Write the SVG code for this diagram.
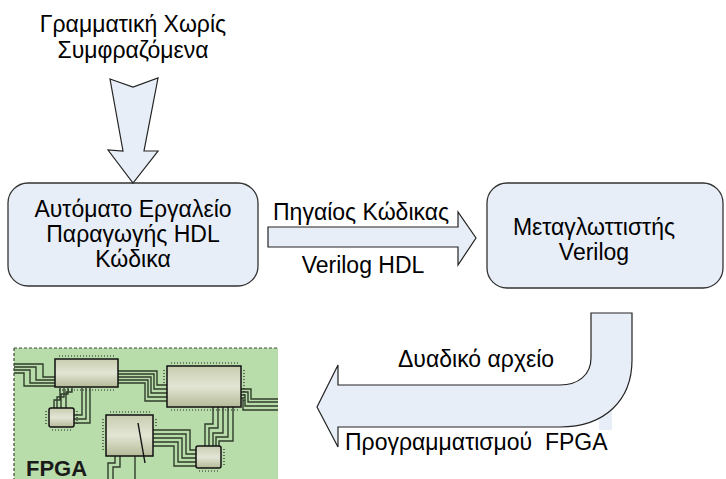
<svg xmlns="http://www.w3.org/2000/svg" width="726" height="479" viewBox="0 0 726 479">
  <defs>
    <style>
      .lbl { font-family: "Liberation Sans", Arial, sans-serif; font-size: 23px; fill: #000; }
      .box { fill: #e8eef7; stroke: #333; stroke-width: 1.3; }
      .arr { fill: #e8eef7; stroke: #222; stroke-width: 1.2; stroke-linejoin: miter; }
      .chip { fill: url(#chipGrad); stroke: #111; stroke-width: 1.5; }
      .pins { stroke: #222; stroke-width: 1.2; stroke-dasharray: 1 2; fill: none; }
      .trace { fill: none; stroke: #2f3d2b; stroke-width: 1.4; }
    </style>
    <linearGradient id="chipGrad" x1="0" y1="0" x2="0" y2="1">
      <stop offset="0" stop-color="#c9cdb0"/>
      <stop offset="0.5" stop-color="#e2e5d4"/>
      <stop offset="1" stop-color="#b5bb98"/>
    </linearGradient>
  </defs>

  <!-- heading -->
  <g id="grammar">
    <text class="lbl" x="133" y="32" text-anchor="middle">Γραμματική Χωρίς</text>
    <text class="lbl" x="133" y="58" text-anchor="middle">Συμφραζόμενα</text>
  </g>

  <!-- nodes -->
  <g id="generator">
    <rect class="box" x="8" y="183" width="250" height="103" rx="20" ry="20"/>
    <text class="lbl" x="133" y="217" text-anchor="middle">Αυτόματο Εργαλείο</text>
    <text class="lbl" x="133" y="242" text-anchor="middle">Παραγωγής HDL</text>
    <text class="lbl" x="133" y="267" text-anchor="middle">Κώδικα</text>
  </g>

  <g id="compiler">
    <rect class="box" x="487" y="183" width="236" height="105" rx="20" ry="20"/>
    <text class="lbl" x="594" y="235" text-anchor="middle">Μεταγλωττιστής</text>
    <text class="lbl" x="594" y="260" text-anchor="middle">Verilog</text>
  </g>

  <!-- FPGA board -->
  <g id="fpga">
    <rect x="14" y="348" width="264" height="135" fill="#b9dcab"/>
    <path d="M14,348 H278 M14,348 V479" stroke="#3c4a38" stroke-width="1.2" stroke-dasharray="3 2" fill="none"/>
    <!-- traces -->
    <path class="trace" d="M14,364 H43 V377 H55 M14,367 H36 V380 H55 M14,370 H30 V383 H55 M14,373 H24 V386 H55"/>
    <path class="trace" d="M118,371 H157 V385 H167 M118,374 H154 V389 H167 M118,377 H151 V393 H167 M118,380 H148 V397 H167 M118,383 H145 V401 H167"/>
    <path class="trace" d="M60,388 V400 H54 V408 M64,388 V397 H57 V408 M68,388 V394 H61 V408 M72,388 V392 H66 V408 M82,388 V415 H74 M86,388 V419 H74 M90,388 V423 H74"/>
    <path class="trace" d="M241,389 H251 V399 H278 M241,392 H248 V402 H278 M241,395 H245 V406 H278 M241,398 H243 V410 H278"/>
    <path class="trace" d="M213,407 V424 H205 V446 M218,407 V428 H209 V446 M223,407 V433 H213 V446 M228,407 V437 H216 V446 M233,407 V441 H219 V446"/>
    <path class="trace" d="M153,430 H190 V450 H196 M153,434 H186 V454 H196 M153,438 H182 V458 H196 M153,442 H178 V462 H196 M153,446 H174 V466 H196"/>
    <path class="trace" d="M115,456 V463 H108 V479 M120,456 V467 H113 V479 M135,456 V479"/>
    <!-- chips -->
    <g id="chipA">
      <rect class="chip" x="55" y="359" width="63" height="28"/>
      <path class="pins" d="M59,356 H116 M59,390 H116"/>
    </g>
    <g id="chipB">
      <rect class="chip" x="167" y="366" width="74" height="41"/>
      <path class="pins" d="M171,363 H238 M171,410 H238 M244,370 V403 M164,370 V385"/>
    </g>
    <g id="chipC">
      <rect class="chip" x="49" y="408" width="25" height="19" rx="2"/>
      <path class="pins" d="M52,430 H72 M46,411 V425 M77,411 V425"/>
    </g>
    <g id="chipD">
      <rect class="chip" x="106" y="415" width="47" height="41"/>
      <path class="pins" d="M110,412 H150 M103,419 V452 M156,419 V428"/>
      <path d="M138,423 L145,463" stroke="#111" stroke-width="1.4"/>
    </g>
    <g id="chipE">
      <rect class="chip" x="196" y="446" width="25" height="22" rx="2"/>
      <path class="pins" d="M199,471 H219 M224,449 V465"/>
    </g>
    <text x="26" y="476" font-family="Liberation Sans, Arial, sans-serif" font-size="22" font-weight="bold" fill="#1a1a1a">FPGA</text>
  </g>

  <!-- connectors -->
  <g id="connectors">
    <polygon class="arr" points="110,79 133,87 158,78 144,151 158,151 133,183 108,150 123,151"/>
    <polygon class="arr" points="268,227 458,227 458,212 476,238 458,265 458,247 268,247"/>
    <rect x="599" y="410" width="13" height="20" fill="#e8eef7"/>
    <path class="arr" d="M591,313 H632 V360 C632,400 605,427 560,427 H338 V447 L317,407 L338,365 V385 H560 C578,385 591,375 591,358 Z"/>
  </g>

  <!-- connector labels -->
  <g id="labels">
    <text class="lbl" x="273" y="220">Πηγαίος Κώδικας</text>
    <text class="lbl" x="363" y="273" text-anchor="middle">Verilog HDL</text>
    <text class="lbl" x="398" y="367">Δυαδικό αρχείο</text>
    <text class="lbl" x="345" y="450" xml:space="preserve">Προγραμματισμού  FPGA</text>
  </g>
</svg>
